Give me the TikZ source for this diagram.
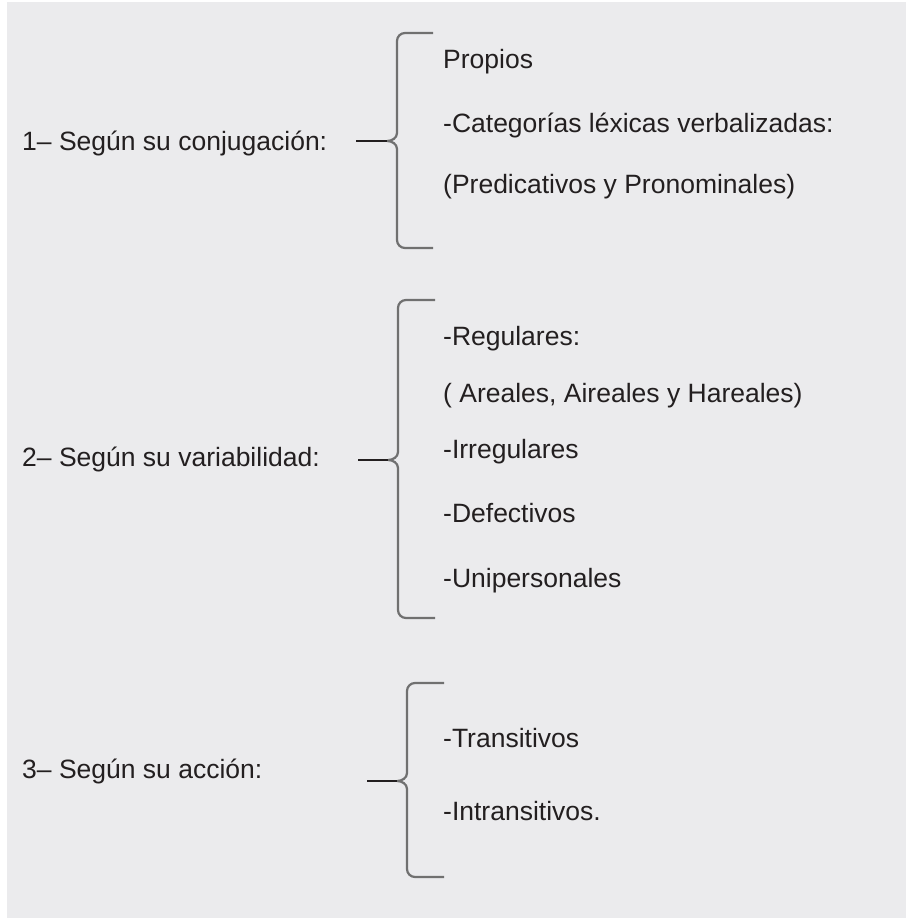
\documentclass[tikz,border=0pt]{standalone}
\usepackage{fontspec}
\setmainfont{Liberation Sans}
\definecolor{bggray}{HTML}{EBEBED}
\definecolor{txt}{HTML}{231F20}
\definecolor{bracegray}{HTML}{707070}
\tikzset{
  lbl/.style={anchor=base west, inner sep=0pt, text=txt, font=\fontsize{26.5}{30}\selectfont},
  bracepath/.style={draw=bracegray, line width=2.2pt, line join=round},
  tickpath/.style={draw=txt, line width=2.4pt},
}
% #1 top y, #2 bottom y, #3 cusp y, #4 vertical x, #5 tip x, #6 end x, #7 name
\newcommand\mybrace[7]{%
  \coordinate (#7c) at (#4-10,#3);
  \coordinate (#7t) at (#5,#3);
  \draw[bracepath] (#6,#1) -- (#4+8,#1) to[out=180,in=90] (#4,#1+8)
     -- (#4,#3-8) to[out=-90,in=0] (#7c) to[out=0,in=90] (#4,#3+8)
     -- (#4,#2-8) to[out=-90,in=180] (#4+8,#2) -- (#6,#2);
  \draw[tickpath] (#7t) -- (#7c);
}
\begin{document}
\begin{tikzpicture}[x=1pt,y=-1pt]
\useasboundingbox (0,0) rectangle (907,918);
\fill[bggray] (7,2) rectangle (906,918);

% Section 1
\node[lbl] (s1) at (22,150) {1– Según su conjugación:};
\mybrace{33}{248}{141}{397}{356}{433}{b1}
\node[lbl] (a1) at (443,68) {Propios};
\node[lbl] (a2) at (443,132) {-Categorías léxicas verbalizadas:};
\node[lbl] (a3) at (443,193) {(Predicativos y Pronominales)};

% Section 2
\node[lbl] (s2) at (22,466) {2– Según su variabilidad:};
\mybrace{300}{618}{460}{398}{358}{435}{b2}
\node[lbl] (c1) at (443,345) {-Regulares:};
\node[lbl] (c2) at (443,402) {( Areales, Aireales y Hareales)};
\node[lbl] (c3) at (443,458) {-Irregulares};
\node[lbl] (c4) at (443,522) {-Defectivos};
\node[lbl] (c5) at (443,587) {-Unipersonales};

% Section 3
\node[lbl] (s3) at (22,778) {3– Según su acción:};
\mybrace{683}{877}{781}{407}{367}{444}{b3}
\node[lbl] (d1) at (443,747) {-Transitivos};
\node[lbl] (d2) at (443,820) {-Intransitivos.};
\end{tikzpicture}
\end{document}
